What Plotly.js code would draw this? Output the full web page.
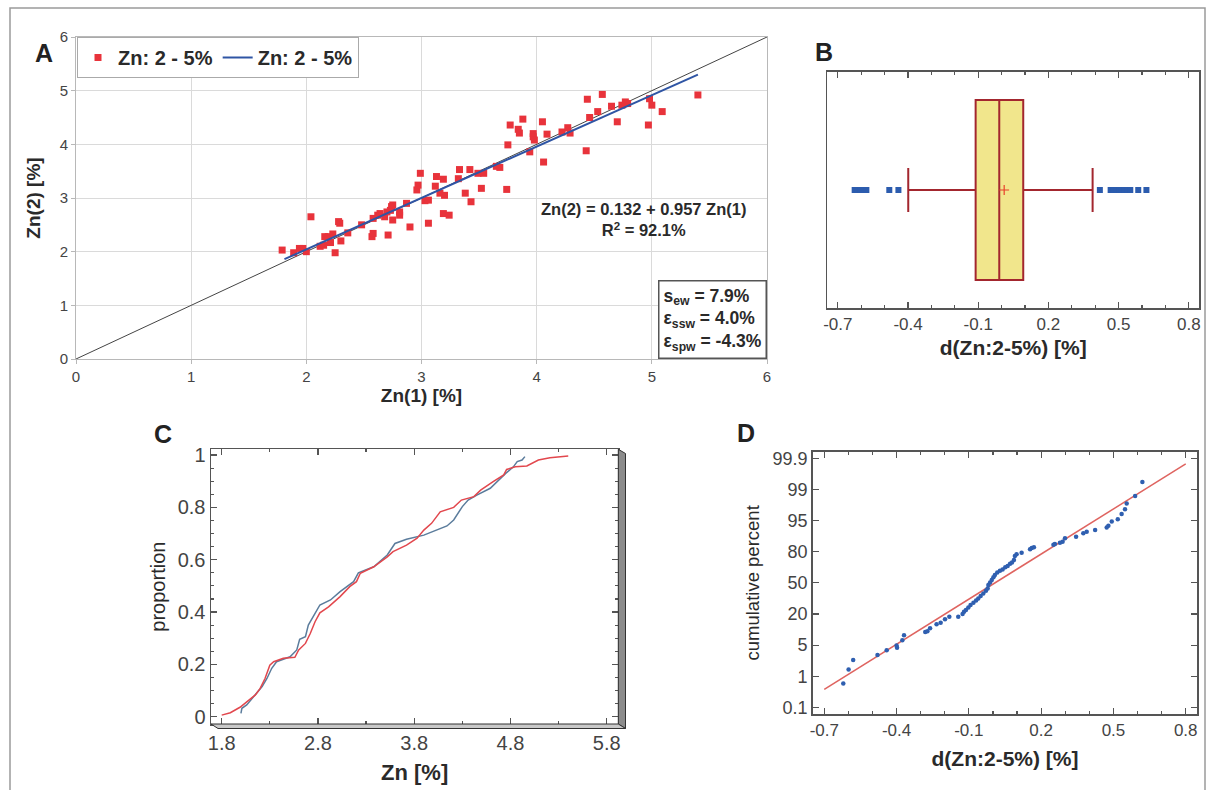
<!DOCTYPE html>
<html><head><meta charset="utf-8">
<script src="https://cdn.plot.ly/plotly-3.0.1.min.js"></script>
<style>html,body{margin:0;padding:0;background:#fff}#chart{width:1210px;height:790px}</style>
</head><body><div id="chart"></div>
<script>
// ---------- Panel A: Zn(1) vs Zn(2) ----------
const zn1 = [1.79,1.89,1.94,1.97,2.00,2.04,2.12,2.15,2.16,2.19,2.21,2.23,2.25,2.29,2.28,2.30,2.36,2.48,2.57,2.58,2.58,2.62,2.64,2.68,2.70,2.71,2.73,2.74,2.75,2.75,2.81,2.81,2.87,2.90,2.96,2.97,2.99,3.03,3.06,3.06,3.12,3.13,3.16,3.19,3.19,3.20,3.24,3.32,3.33,3.38,3.42,3.43,3.49,3.52,3.54,3.65,3.68,3.74,3.75,3.77,3.84,3.85,3.88,3.94,3.97,3.97,3.98,4.05,4.06,4.09,4.22,4.27,4.29,4.43,4.44,4.46,4.53,4.57,4.65,4.70,4.74,4.77,4.79,4.97,4.98,5.00,5.09,5.40];
const zn2 = [2.03,1.98,2.06,2.06,2.00,2.65,2.10,2.12,2.28,2.28,2.17,2.33,1.98,2.53,2.56,2.20,2.35,2.50,2.28,2.34,2.62,2.68,2.71,2.65,2.74,2.31,2.77,2.84,2.87,2.59,2.68,2.74,2.90,2.46,3.15,3.24,3.46,2.95,2.96,2.53,3.22,3.40,3.09,3.35,2.71,3.05,2.68,3.36,3.53,3.09,3.53,2.93,3.46,3.18,3.46,3.59,3.57,3.16,3.99,4.36,4.28,4.21,4.47,3.86,4.20,4.14,4.08,4.42,3.67,4.19,4.23,4.31,4.21,3.88,4.84,4.50,4.61,4.93,4.71,4.42,4.73,4.79,4.76,4.36,4.85,4.73,4.61,4.92];
const fitX = [1.81, 5.40];
const fitY = [1.86, 5.30];
const diagX = [0, 6];
const diagY = [0, 6];
const seriesName = 'Zn: 2 - 5%';

// ---------- Panel B: box plot of differences ----------
const boxQ1 = [-0.111];
const boxMedian = [-0.010];
const boxQ3 = [0.0925];
const boxLow = [-0.399];
const boxHigh = [0.389];
const boxMean = [0.011];
const boxOutliers = [-0.628,-0.615,-0.602,-0.589,-0.578,-0.480,-0.441,0.420,0.466,0.478,0.490,0.502,0.514,0.526,0.538,0.550,0.584,0.619];
const diffTicks = [-0.7,-0.4,-0.1,0.2,0.5,0.8];
const diffTickText = ['-0.7','-0.4','-0.1','0.2','0.5','0.8'];

// ---------- Panel C: empirical CDFs ----------
const ecdf1X = [1.80,1.89,1.99,2.09,2.15,2.20,2.25,2.30,2.34,2.44,2.56,2.60,2.67,2.72,2.77,2.82,2.91,3.03,3.13,3.20,3.24,3.38,3.52,3.58,3.72,3.83,3.90,3.98,4.07,4.21,4.29,4.42,4.49,4.62,4.73,4.76,4.85,4.97,5.09,5.21,5.40];
const ecdf1P = [0.006,0.015,0.036,0.064,0.083,0.108,0.146,0.197,0.210,0.223,0.227,0.255,0.280,0.318,0.363,0.397,0.420,0.459,0.497,0.516,0.548,0.573,0.611,0.631,0.656,0.682,0.713,0.739,0.783,0.800,0.828,0.841,0.866,0.898,0.924,0.945,0.955,0.958,0.981,0.990,0.996];
const ecdf2X = [2.00,2.01,2.06,2.13,2.22,2.27,2.32,2.37,2.51,2.58,2.61,2.67,2.70,2.77,2.82,2.93,3.03,3.17,3.22,3.38,3.52,3.60,3.72,3.90,4.14,4.21,4.30,4.36,4.45,4.59,4.64,4.75,4.83,4.87,4.92,4.95];
const ecdf2P = [0.013,0.032,0.045,0.076,0.115,0.146,0.185,0.210,0.229,0.255,0.296,0.306,0.350,0.395,0.427,0.446,0.478,0.516,0.550,0.573,0.618,0.662,0.678,0.694,0.729,0.752,0.803,0.828,0.847,0.873,0.892,0.930,0.955,0.975,0.981,0.994];
const znTicks = [1.8,2.8,3.8,4.8,5.8];
const propTicks = [0,0.2,0.4,0.6,0.8,1];

// ---------- Panel D: normal probability plot ----------
const dX = [-0.621,-0.599,-0.580,-0.479,-0.441,-0.400,-0.398,-0.376,-0.369,-0.281,-0.272,-0.261,-0.234,-0.217,-0.199,-0.181,-0.144,-0.126,-0.120,-0.112,-0.102,-0.093,-0.081,-0.070,-0.061,-0.051,-0.040,-0.029,-0.022,-0.019,-0.012,-0.005,0.002,0.008,0.018,0.029,0.040,0.051,0.061,0.071,0.079,0.087,0.091,0.098,0.119,0.154,0.161,0.170,0.251,0.257,0.278,0.289,0.299,0.345,0.375,0.389,0.424,0.472,0.479,0.493,0.518,0.534,0.548,0.555,0.590,0.620];
const dPos = [0.77,1.22,1.52,1.68,1.84,1.99,1.92,2.16,2.32,2.42,2.45,2.54,2.67,2.72,2.83,2.91,2.91,3.00,3.07,3.13,3.21,3.29,3.36,3.43,3.50,3.58,3.66,3.75,3.82,3.93,4.01,4.09,4.18,4.25,4.33,4.39,4.43,4.50,4.54,4.61,4.65,4.73,4.86,4.92,4.97,5.08,5.12,5.14,5.22,5.25,5.29,5.32,5.43,5.48,5.59,5.64,5.70,5.78,5.83,5.97,6.04,6.21,6.36,6.55,6.79,7.24];
const refLineX = [-0.7, 0.8];
const refLinePos = [0.58, 7.82];
const probTickPos = [0,1,2,3,4,5,6,7,8];
const probTickText = ['0.1','1','5','20','50','80','95','99','99.9'];

// ---------- layout helpers ----------
const FONT = 'Liberation Sans, Arial, sans-serif';
const W = 1210, H = 790;
const fx = p => p / W;
const fy = p => 1 - p / H;
const TXT = '#2a2a2a';

const traces = [
  {x: diagX, y: diagY, xaxis:'x', yaxis:'y', mode:'lines', line:{color:'#444', width:1}, showlegend:false, hoverinfo:'skip'},
  {x: zn1, y: zn2, xaxis:'x', yaxis:'y', mode:'markers', name: seriesName,
   marker:{symbol:'square', size:7, color:'#e8333b'}},
  {x: fitX, y: fitY, xaxis:'x', yaxis:'y', mode:'lines', name: seriesName,
   line:{color:'#2f55a4', width:2}},
  // Panel B
  {type:'box', orientation:'h', y:[0.5], q1: boxQ1, median: boxMedian, q3: boxQ3,
   lowerfence: boxLow, upperfence: boxHigh, xaxis:'x2', yaxis:'y2',
   width:0.76, whiskerwidth:0.245, boxpoints:false, fillcolor:'#f1e68c',
   line:{color:'#a3262e', width:2}, showlegend:false, hoverinfo:'skip'},
  {x: boxMean, y:[0.5], xaxis:'x2', yaxis:'y2', mode:'markers', showlegend:false,
   marker:{symbol:'cross-thin-open', size:7, color:'#e8402c', line:{color:'#e8402c', width:1.2}}},
  {x: boxOutliers, y: boxOutliers.map(() => 0.5), xaxis:'x2', yaxis:'y2', mode:'markers', showlegend:false,
   marker:{symbol:'square', size:6, color:'#2c5cae'}},
  // Panel C
  {x: ecdf2X, y: ecdf2P, xaxis:'x3', yaxis:'y3', mode:'lines', showlegend:false,
   line:{color:'#5b7c9c', width:1.5}},
  {x: ecdf1X, y: ecdf1P, xaxis:'x3', yaxis:'y3', mode:'lines', showlegend:false,
   line:{color:'#e2474d', width:1.5}},
  // Panel D
  {x: refLineX, y: refLinePos, xaxis:'x4', yaxis:'y4', mode:'lines', showlegend:false,
   line:{color:'#df6460', width:1.5}},
  {x: dX, y: dPos, xaxis:'x4', yaxis:'y4', mode:'markers', showlegend:false,
   marker:{size:4.5, color:'#2f5fb0'}}
];

const frameAxis = (extra) => Object.assign({
  showline:true, linecolor:'#555', linewidth:1.5, mirror:'ticks',
  ticks:'inside', ticklen:6, tickcolor:'#555', tickwidth:1.2,
  showgrid:false, zeroline:false,
  tickfont:{family:FONT, size:17, color:'#444'}
}, extra);

const layout = {
  width: W, height: H,
  margin:{l:0, r:0, t:0, b:0},
  paper_bgcolor:'#fff', plot_bgcolor:'#fff',
  font:{family:FONT, color:TXT},
  showlegend:true,
  legend:{x:fx(77), y:fy(37), xanchor:'left', yanchor:'top', orientation:'h',
    bgcolor:'#fff', bordercolor:'#aaa', borderwidth:1, itemwidth:30,
    font:{family:FONT, size:20, weight:'bold', color:TXT}},
  xaxis:{domain:[fx(76), fx(767)], range:[0,6], anchor:'y', dtick:1, tick0:0,
    showgrid:true, gridcolor:'#dadada', showline:true, linecolor:'#b8b8b8', mirror:true,
    ticks:'outside', ticklen:4, tickcolor:'#b8b8b8', zeroline:false,
    tickfont:{family:FONT, size:15, color:'#444'},
    title:{text:'Zn(1) [%]', font:{family:FONT, size:19, weight:'bold', color:TXT}, standoff:2}},
  yaxis:{domain:[fy(359), fy(37)], range:[0,6], anchor:'x', dtick:1, tick0:0,
    showgrid:true, gridcolor:'#dadada', showline:true, linecolor:'#b8b8b8', mirror:true,
    ticks:'outside', ticklen:4, tickcolor:'#b8b8b8', zeroline:false,
    tickfont:{family:FONT, size:15, color:'#444'},
    title:{text:'Zn(2) [%]', font:{family:FONT, size:19, weight:'bold', color:TXT}, standoff:14}},
  xaxis2: frameAxis({domain:[fx(827.3), fx(1199.3)], range:[-0.745,0.845], anchor:'y2',
    tickmode:'array', tickvals:diffTicks, ticktext:diffTickText,
    minor:{tickmode:'linear', tick0:-0.7, dtick:0.1, ticks:'inside', ticklen:3, tickcolor:'#555'},
    title:{text:'d(Zn:2-5%) [%]', font:{family:FONT, size:21, weight:'bold', color:TXT}, standoff:7}}),
  yaxis2:{domain:[fy(308.3), fy(71.7)], range:[0,1], anchor:'x2', showticklabels:false, ticks:'',
    showline:true, linecolor:'#555', linewidth:1.5, mirror:true, showgrid:false, zeroline:false},
  xaxis3: frameAxis({domain:[fx(211), fx(618.3)], range:[1.689,5.92], anchor:'y3',
    tickmode:'array', tickvals:znTicks, ticktext:znTicks.map(v => v.toFixed(1)),
    minor:{tickmode:'linear', tick0:1.8, dtick:0.5, ticks:'inside', ticklen:3, tickcolor:'#555'},
    tickfont:{family:FONT, size:20, color:'#444'},
    title:{text:'Zn [%]', font:{family:FONT, size:22, weight:'bold', color:TXT}, standoff:12}}),
  yaxis3: frameAxis({domain:[fy(724), fy(449.3)], range:[-0.028,1.022], anchor:'x3',
    tickmode:'array', tickvals:propTicks, ticktext:propTicks.map(v => String(v)),
    minor:{tickmode:'linear', tick0:0, dtick:0.05, ticks:'inside', ticklen:3, tickcolor:'#555'},
    tickfont:{family:FONT, size:20, color:'#444'},
    title:{text:'proportion', font:{family:FONT, size:20, color:TXT}, standoff:6}}),
  xaxis4: frameAxis({domain:[fx(812.7), fx(1197.3)], range:[-0.748,0.848], anchor:'y4',
    tickmode:'array', tickvals:diffTicks, ticktext:diffTickText,
    minor:{tickmode:'linear', tick0:-0.7, dtick:0.1, ticks:'inside', ticklen:3, tickcolor:'#555'},
    title:{text:'d(Zn:2-5%) [%]', font:{family:FONT, size:21, weight:'bold', color:TXT}, standoff:12}}),
  yaxis4: frameAxis({domain:[fy(714), fy(451.7)], range:[-0.21,8.21], anchor:'x4',
    tickmode:'array', tickvals:probTickPos, ticktext:probTickText,
    tickfont:{family:FONT, size:18, color:'#444'},
    title:{text:'cumulative percent', font:{family:FONT, size:18.5, color:TXT}, standoff:8}}),
  shapes:[
    {type:'rect', xref:'paper', yref:'paper', x0:fx(10), x1:fx(1205), y0:fy(800), y1:fy(8),
     line:{color:'#9a9a9a', width:1.5}, fillcolor:'rgba(0,0,0,0)', layer:'below'},
    {type:'path', xref:'paper', yref:'paper',
     path:`M ${fx(618.3)},${fy(449.3)} L ${fx(625.5)},${fy(453.5)} L ${fx(625.5)},${fy(728.5)} L ${fx(618.3)},${fy(724)} Z`,
     fillcolor:'#8c8c8c', line:{color:'#333', width:1}},
    {type:'path', xref:'paper', yref:'paper',
     path:`M ${fx(211)},${fy(724)} L ${fx(618.3)},${fy(724)} L ${fx(625.5)},${fy(728.5)} L ${fx(218)},${fy(728.5)} Z`,
     fillcolor:'#c9c9c9', line:{color:'#333', width:1}}
  ],
  annotations:[
    {xref:'paper', yref:'paper', x:fx(33), y:fy(37), text:'A', showarrow:false,
     font:{family:FONT, size:25, weight:'bold', color:'#222'}},
    {xref:'paper', yref:'paper', x:fx(835), y:fy(36), text:'B', showarrow:false,
     font:{family:FONT, size:25, weight:'bold', color:'#222'}},
    {xref:'paper', yref:'paper', x:fx(152), y:fy(434), text:'C', showarrow:false,
     font:{family:FONT, size:25, weight:'bold', color:'#222'}},
    {xref:'paper', yref:'paper', x:fx(746), y:fy(433), text:'D', showarrow:false,
     font:{family:FONT, size:25, weight:'bold', color:'#222'}},
    {xref:'paper', yref:'paper', x:fx(643), y:fy(198), text:'Zn(2) = 0.132 + 0.957 Zn(1)<br>R<sup>2</sup> = 92.1%',
     showarrow:false, align:'center', font:{family:FONT, size:16.5, weight:'bold', color:TXT}},
    {xref:'paper', yref:'paper', x:fx(767), y:fy(358.5), xanchor:'right', yanchor:'bottom',
     text:'s<sub>ew</sub> = 7.9%<br>ε<sub>ssw</sub> = 4.0%<br>ε<sub>spw</sub> = -4.3%',
     showarrow:false, align:'left', bgcolor:'#fff', bordercolor:'#555', borderwidth:1.5, borderpad:4,
     font:{family:FONT, size:17.5, weight:'bold', color:TXT}}
  ]
};

Plotly.newPlot('chart', traces, layout, {displayModeBar:false, staticPlot:true});
</script>
</body></html>
